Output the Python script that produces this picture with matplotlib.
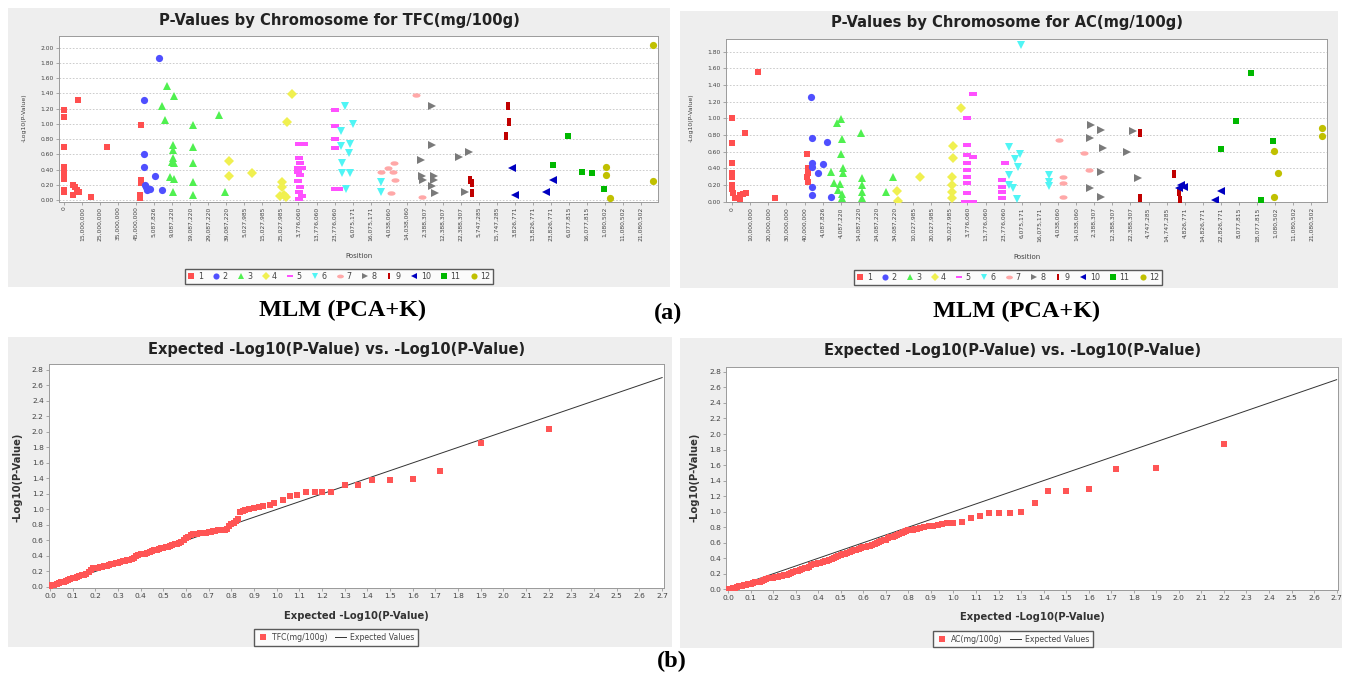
import matplotlib
matplotlib.use('Agg')
import matplotlib.pyplot as plt
from matplotlib.patches import Rectangle
from matplotlib.markers import MarkerStyle
from matplotlib.transforms import Affine2D
from matplotlib.lines import Line2D
import numpy as np

plt.rcParams['font.family'] = ['DejaVu Sans']

## data: Manhattan plots (x = tick index along the position axis)
chrom_labels = ['1', '2', '3', '4', '5', '6', '7', '8', '9', '10', '11', '12']

tfc_ticks = ['0', '15,000,000', '25,000,000', '35,000,000', '45,000,000', '5,087,826',
             '9,087,220', '19,087,220', '29,087,220', '39,087,220', '5,027,985', '15,027,985',
             '25,027,985', '3,776,060', '13,776,060', '23,776,060', '6,075,171', '16,075,171',
             '4,038,060', '14,038,060', '2,388,307', '12,388,307', '22,388,307', '5,747,285',
             '15,747,285', '3,826,771', '13,826,771', '23,826,771', '6,077,815', '16,077,815',
             '1,080,502', '11,080,502', '21,080,502']
ac_ticks = ['0', '10,000,000', '20,000,000', '30,000,000', '40,000,000', '4,087,826',
            '4,087,220', '14,087,220', '24,087,220', '34,087,220', '10,027,985', '20,027,985',
            '30,027,985', '3,776,060', '13,776,060', '23,776,060', '6,075,171', '16,075,171',
            '4,038,060', '14,038,060', '2,388,307', '12,388,307', '22,388,307', '4,747,285',
            '14,747,285', '4,826,771', '14,826,771', '22,826,771', '8,077,815', '18,077,815',
            '1,080,502', '11,080,502', '21,080,502']

tfc_chr = [1]*21 + [2]*10 + [3]*19 + [4]*10 + [5]*19 + [6]*12 + [7]*8 + [8]*12 + [9]*6 + [10]*4 + [11]*5 + [12]*5
tfc_pos = [0.0, 0.0, 0.0, 0.0, 0.0, 0.0, 0.0, 0.0, 0.76, 0.47, 0.71, 0.47, 0.83, 0.6, 1.49, 2.37,
           4.27, 4.27, 4.27, 4.22, 4.22,
           4.43, 4.43, 4.43, 4.5, 4.62, 4.74, 4.55, 5.26, 5.05, 5.45,
           5.69, 5.45, 6.07, 5.59, 6.04, 6.04, 6.04, 6.0, 6.1, 5.9, 6.1, 6.04,
           7.16, 7.16, 7.16, 7.16, 7.16, 8.58, 8.93,
           9.12, 9.12, 10.43, 12.09, 12.09, 12.2, 12.32, 12.0, 12.35, 12.63,
           13.03, 13.3, 13.03, 13.1, 13.0, 13.2, 13.0, 13.1, 13.0, 13.1, 13.05, 13.2, 13.03,
           15.05, 15.05, 15.05, 15.05, 15.05, 15.25,
           15.59, 15.36, 16.04, 15.36, 15.88, 15.81, 15.4, 15.4, 15.88, 15.64, 17.58, 17.58,
           17.58, 17.96, 18.29, 18.25, 18.36, 18.13, 19.5, 19.83,
           20.43, 20.43, 19.81, 19.83, 20.5, 20.43, 20.57, 19.9, 20.5, 21.92, 22.44, 22.23,
           22.51, 22.63, 22.63, 24.6, 24.69, 24.53,
           24.83, 25.0, 26.73, 27.13,
           27.13, 27.96, 28.72, 29.27, 29.93,
           30.05, 30.05, 30.28, 32.65, 32.65]
tfc_val = [1.18, 1.09, 0.69, 0.44, 0.35, 0.28, 0.13, 0.10, 1.32, 0.20, 0.13, 0.07, 0.11, 0.17, 0.04, 0.70,
           0.98, 0.26, 0.23, 0.07, 0.03,
           1.32, 0.60, 0.44, 0.20, 0.13, 0.15, 0.17, 1.86, 0.31, 0.13,
           1.50, 1.23, 1.37, 1.05, 0.72, 0.66, 0.55, 0.50, 0.48, 0.30, 0.28, 0.10,
           0.98, 0.69, 0.48, 0.24, 0.07, 1.12, 0.11,
           0.51, 0.32, 0.35, 0.24, 0.17, 0.07, 0.04, 0.05, 1.03, 1.39,
           0.74, 0.74, 0.55, 0.48, 0.42, 0.42, 0.37, 0.33, 0.25, 0.17, 0.11, 0.05, 0.02,
           1.18, 0.97, 0.80, 0.68, 0.15, 0.15,
           1.23, 0.91, 1.00, 0.71, 0.74, 0.62, 0.49, 0.36, 0.36, 0.14, 0.24, 0.10,
           0.37, 0.42, 0.48, 0.37, 0.26, 0.09, 1.38, 0.04,
           1.23, 0.72, 0.53, 0.31, 0.31, 0.18, 0.09, 0.26, 0.26, 0.56, 0.63, 0.10,
           0.26, 0.23, 0.09, 1.23, 1.02, 0.84,
           0.42, 0.07, 0.10, 0.26,
           0.46, 0.84, 0.37, 0.36, 0.14,
           0.44, 0.33, 0.03, 2.04, 0.25]

ac_chr = [1]*21 + [2]*10 + [3]*19 + [4]*10 + [5]*17 + [6]*12 + [7]*6 + [8]*10 + [9]*5 + [10]*5 + [11]*5 + [12]*5
ac_pos = [0.0, 0.0, 0.0, 0.0, 0.0, 0.0, 0.0, 0.07, 0.14, 0.73, 0.43, 0.61, 0.78, 0.43, 1.44, 2.36,
          4.16, 4.2, 4.2, 4.2, 4.16,
          4.33, 4.4, 4.4, 4.4, 4.4, 4.4, 5.22, 5.0, 4.73, 5.44,
          5.82, 6.03, 6.05, 6.0, 6.1, 5.44, 6.1, 5.63, 5.98, 5.86, 6.05, 6.05,
          7.1, 7.16, 7.16, 7.16, 7.16, 8.87, 8.51,
          9.13, 9.18, 10.4, 12.2, 12.2, 12.13, 12.15, 12.15, 12.15, 12.65,
          13.0, 13.0, 13.0, 13.0, 13.0, 13.0, 13.0, 13.0, 12.84, 13.31, 13.31, 13.33,
          14.9, 14.9, 14.9, 14.9, 15.08,
          15.96, 15.32, 15.6, 15.9, 15.8, 15.32, 15.32, 15.51, 15.74, 17.5, 17.5, 17.5,
          18.04, 18.27, 18.27, 18.27, 19.46, 19.7,
          19.81, 19.76, 20.4, 20.47, 20.4, 19.76, 20.4, 21.82, 22.13, 22.41,
          22.53, 22.53, 24.42, 24.66, 24.73,
          24.82, 24.66, 24.96, 26.67, 27.02,
          27.02, 27.85, 28.68, 29.22, 29.86,
          29.93, 30.17, 29.93, 32.58, 32.58]
ac_val = [1.0, 0.71, 0.47, 0.35, 0.30, 0.20, 0.15, 0.10, 0.05, 0.83, 0.03, 0.09, 0.10, 0.08, 1.56, 0.04,
          0.57, 0.40, 0.34, 0.24, 0.30,
          1.26, 0.77, 0.47, 0.42, 0.18, 0.08, 0.72, 0.45, 0.34, 0.06,
          0.94, 0.99, 0.75, 0.57, 0.40, 0.36, 0.34, 0.23, 0.21, 0.14, 0.09, 0.04,
          0.83, 0.28, 0.20, 0.12, 0.04, 0.30, 0.12,
          0.13, 0.01, 0.30, 0.67, 0.52, 0.30, 0.20, 0.12, 0.04, 1.12,
          1.0, 0.68, 0.56, 0.46, 0.38, 0.30, 0.22, 0.11, 0.0, 0.0, 1.29, 0.54,
          0.26, 0.18, 0.12, 0.05, 0.47,
          1.88, 0.66, 0.51, 0.57, 0.42, 0.32, 0.20, 0.16, 0.03, 0.32, 0.24, 0.19,
          0.74, 0.30, 0.22, 0.06, 0.59, 0.38,
          0.92, 0.77, 0.86, 0.64, 0.36, 0.17, 0.06, 0.60, 0.85, 0.28,
          0.83, 0.05, 0.33, 0.12, 0.02,
          0.20, 0.16, 0.18, 0.02, 0.13,
          0.63, 0.97, 1.55, 0.02, 0.73,
          0.61, 0.35, 0.06, 0.88, 0.79]

## data: QQ plots
tfc_exp = [2.20, 1.90, 1.72, 1.60, 1.50, 1.42, 1.36, 1.30, 1.24, 1.20, 1.17, 1.13, 1.09, 1.06, 1.03,
           0.99, 0.97, 0.94, 0.92, 0.90, 0.88, 0.86, 0.85, 0.84,
           0.83, 0.82, 0.81, 0.80, 0.79, 0.78, 0.77, 0.76, 0.75, 0.74, 0.73, 0.72, 0.71, 0.70,
           0.69, 0.68, 0.67, 0.66, 0.65, 0.64, 0.63, 0.62, 0.61, 0.60, 0.59, 0.58, 0.57, 0.56,
           0.55, 0.54, 0.53, 0.52, 0.51, 0.50, 0.49, 0.48, 0.47, 0.46, 0.45, 0.44, 0.43, 0.42,
           0.41, 0.40, 0.39, 0.38, 0.37, 0.36, 0.35, 0.34, 0.33, 0.32, 0.31, 0.30, 0.29, 0.28,
           0.27, 0.26, 0.25, 0.24, 0.23, 0.22, 0.21, 0.20, 0.19, 0.18, 0.17, 0.16, 0.15, 0.14,
           0.13, 0.12, 0.11, 0.10, 0.09, 0.08, 0.07, 0.06, 0.05, 0.04, 0.03, 0.02, 0.01, 0.00]
tfc_obs = [2.04, 1.86, 1.50, 1.39, 1.38, 1.38, 1.32, 1.32, 1.23, 1.22, 1.22, 1.22, 1.18, 1.17, 1.12,
           1.08, 1.06, 1.04, 1.03, 1.02, 1.00, 0.99, 0.98, 0.97,
           0.88, 0.85, 0.83, 0.81, 0.78, 0.75, 0.74, 0.74, 0.73, 0.73, 0.72, 0.72, 0.71, 0.71,
           0.70, 0.70, 0.69, 0.69, 0.68, 0.68, 0.68, 0.67, 0.65, 0.63, 0.60, 0.58, 0.57, 0.56,
           0.55, 0.54, 0.53, 0.52, 0.51, 0.50, 0.50, 0.49, 0.48, 0.48, 0.47, 0.45, 0.44, 0.43,
           0.43, 0.42, 0.41, 0.40, 0.38, 0.36, 0.35, 0.35, 0.34, 0.33, 0.32, 0.31, 0.31, 0.30,
           0.29, 0.28, 0.27, 0.27, 0.26, 0.26, 0.25, 0.25, 0.24, 0.22, 0.19, 0.17, 0.16, 0.15,
           0.14, 0.13, 0.12, 0.12, 0.10, 0.09, 0.08, 0.07, 0.06, 0.05, 0.04, 0.03, 0.02, 0.01]

ac_exp = [2.20, 1.90, 1.72, 1.60, 1.50, 1.42, 1.36, 1.30, 1.25, 1.20, 1.16, 1.12, 1.08, 1.04, 1.00,
          0.97, 0.95, 0.93, 0.91, 0.89, 0.87, 0.85,
          0.84, 0.83, 0.82, 0.81, 0.80, 0.79, 0.78, 0.77, 0.76, 0.75, 0.74, 0.73, 0.72, 0.71,
          0.70, 0.69, 0.68, 0.67, 0.66, 0.65, 0.64, 0.63, 0.62, 0.61, 0.60, 0.59, 0.58, 0.57,
          0.56, 0.55, 0.54, 0.53, 0.52, 0.51, 0.50, 0.49, 0.48, 0.47, 0.46, 0.45, 0.44, 0.43,
          0.42, 0.41, 0.40, 0.39, 0.38, 0.37, 0.36, 0.35, 0.34, 0.33, 0.32, 0.31, 0.30, 0.29,
          0.28, 0.27, 0.26, 0.25, 0.24, 0.23, 0.22, 0.21, 0.20, 0.19, 0.18, 0.17, 0.16, 0.15,
          0.14, 0.13, 0.12, 0.11, 0.10, 0.09, 0.08, 0.07, 0.06, 0.05, 0.04, 0.03, 0.02, 0.01, 0.00]
ac_obs = [1.87, 1.56, 1.55, 1.29, 1.26, 1.26, 1.11, 0.99, 0.98, 0.98, 0.98, 0.94, 0.92, 0.87, 0.86,
          0.85, 0.84, 0.83, 0.82, 0.81, 0.80, 0.79,
          0.78, 0.78, 0.77, 0.76, 0.76, 0.75, 0.74, 0.73, 0.71, 0.70, 0.69, 0.68, 0.67, 0.66,
          0.64, 0.63, 0.62, 0.61, 0.60, 0.58, 0.57, 0.56, 0.56, 0.55, 0.54, 0.53, 0.52, 0.51,
          0.50, 0.49, 0.48, 0.47, 0.46, 0.45, 0.44, 0.43, 0.42, 0.40, 0.39, 0.38, 0.37, 0.36,
          0.35, 0.34, 0.34, 0.33, 0.32, 0.31, 0.29, 0.28, 0.27, 0.26, 0.25, 0.24, 0.23, 0.22,
          0.21, 0.20, 0.18, 0.18, 0.17, 0.17, 0.16, 0.16, 0.15, 0.15, 0.14, 0.13, 0.12, 0.11,
          0.10, 0.10, 0.09, 0.08, 0.07, 0.07, 0.06, 0.05, 0.04, 0.04, 0.03, 0.02, 0.02, 0.01, 0.00]

expected_line = [0.0, 2.7]
qq_xticks = ['0.0', '0.1', '0.2', '0.3', '0.4', '0.5', '0.6', '0.7', '0.8', '0.9', '1.0', '1.1', '1.2', '1.3',
             '1.4', '1.5', '1.6', '1.7', '1.8', '1.9', '2.0', '2.1', '2.2', '2.3', '2.4', '2.5', '2.6', '2.7']
qq_yticks = ['0.0', '0.2', '0.4', '0.6', '0.8', '1.0', '1.2', '1.4', '1.6', '1.8', '2.0', '2.2', '2.4', '2.6', '2.8']

## styles
W, H = 1351, 683
chrom_colors = ['#ff4f4f', '#4f4fff', '#50f050', '#f0f050', '#ff50ff', '#50f5f5', '#ffa8a8',
                '#7a7a7a', '#c00000', '#0000c0', '#00b800', '#c0c000']
hrect = [(-1, -0.45), (1, -0.45), (1, 0.45), (-1, 0.45), (-1, -0.45)]
vrect = [(-0.45, -1), (0.45, -1), (0.45, 1), (-0.45, 1), (-0.45, -1)]
ellipse = MarkerStyle('o', transform=Affine2D().scale(1.0, 0.55))
chrom_markers = ['s', 'o', '^', 'D', hrect, 'v', ellipse, '>', vrect, '<', 's', 'o']
chrom_sizes = [5.0, 5.2, 5.2, 4.6, 5.6, 5.2, 5.8, 5.2, 5.6, 5.2, 5.0, 5.2]
panel_color = '#eeeeee'
tick_color = '#444444'


def rect(x0, y0, x1, y1):
    return [x0 / W, 1 - y1 / H, (x1 - x0) / W, (y1 - y0) / H]


def fx(x):
    return x / W


def fy(y):
    return 1 - y / H


fig = plt.figure(figsize=(W / 100, H / 100), dpi=100)
fig.patch.set_facecolor('white')

## grey chart backgrounds
for (x0, y0, x1, y1) in [(8, 8, 670, 287), (680, 11, 1338, 288), (8, 337, 672, 647), (680, 338, 1342, 648)]:
    fig.add_artist(Rectangle((fx(x0), fy(y1)), (x1 - x0) / W, (y1 - y0) / H,
                             transform=fig.transFigure, facecolor=panel_color, edgecolor='none', zorder=0))


def style_axes(ax):
    ax.set_facecolor('white')
    for sp in ax.spines.values():
        sp.set_color('#9a9a9a')
        sp.set_linewidth(0.7)
    ax.tick_params(direction='out', length=2, width=0.5, color='#888888', labelcolor=tick_color, pad=1.5)


def manhattan(box, pos, val, chrs, ticks, xlim, ylim, ymax_tick, title, tcx, tcy, ylx, ply, legcx, legcy):
    ax = fig.add_axes(rect(*box))
    style_axes(ax)
    pos = np.array(pos)
    val = np.array(val)
    chrs = np.array(chrs)
    handles = []
    for i, lab in enumerate(chrom_labels):
        m = chrs == i + 1
        h, = ax.plot(pos[m], val[m], linestyle='none', marker=chrom_markers[i], color=chrom_colors[i],
                     markersize=chrom_sizes[i], markeredgewidth=0, label=lab, zorder=3)
        handles.append(h)
    ax.set_xlim(*xlim)
    ax.set_ylim(*ylim)
    ax.set_xticks(range(len(ticks)))
    ax.set_xticklabels(ticks, rotation=90, fontsize=4.3)
    yt = np.arange(0, ymax_tick + 0.001, 0.2)
    ax.set_yticks(yt)
    ax.set_yticklabels(['%.2f' % v for v in yt], fontsize=4.3)
    ax.yaxis.grid(True, linestyle=(0, (2, 2)), color='#c4c4c4', linewidth=0.6)
    ax.set_axisbelow(True)
    fig.text(fx(tcx), fy(tcy), title, ha='center', va='center', fontsize=10.6, fontweight='bold', color='#222222')
    fig.text(fx(ylx), fy(118), '-Log10(P-Value)', rotation=90, ha='center', va='center', fontsize=4.5, color=tick_color)
    fig.text(fx(tcx + 20), fy(ply), 'Position', ha='center', va='center', fontsize=5, color=tick_color)
    leg = fig.legend(handles=handles, loc='center', bbox_to_anchor=(fx(legcx), fy(legcy)), ncol=12,
                     fontsize=5.8, frameon=True, fancybox=False, handlelength=0.9, handletextpad=0.35,
                     columnspacing=1.2, borderpad=0.35, markerscale=0.85)
    leg.get_frame().set_edgecolor('#333333')
    leg.get_frame().set_linewidth(1.0)
    for t in leg.get_texts():
        t.set_color(tick_color)
    return ax


def qqplot(box, exp, obs, label, xlim, ylim, tcx, tcy, ylx, xly, legcx, legcy):
    ax = fig.add_axes(rect(*box))
    style_axes(ax)
    ax.plot(expected_line, expected_line, color='#333333', linewidth=0.7, zorder=2)
    ax.plot(exp, obs, linestyle='none', marker='s', color='#ff5555', markersize=3.8, markeredgewidth=0, zorder=3)
    ax.set_xlim(*xlim)
    ax.set_ylim(*ylim)
    ax.set_xticks([float(t) for t in qq_xticks])
    ax.set_xticklabels(qq_xticks, fontsize=5.4)
    ax.set_yticks([float(t) for t in qq_yticks])
    ax.set_yticklabels(qq_yticks, fontsize=5.4)
    fig.text(fx(tcx), fy(tcy), 'Expected -Log10(P-Value) vs. -Log10(P-Value)', ha='center', va='center',
             fontsize=10.5, fontweight='bold', color='#222222')
    fig.text(fx(ylx), fy(477), '-Log10(P-Value)', rotation=90, ha='center', va='center', fontsize=7.2,
             fontweight='bold', color='#333333')
    fig.text(fx(tcx + 19), fy(xly), 'Expected -Log10(P-Value)', ha='center', va='center', fontsize=7.2,
             fontweight='bold', color='#333333')
    handles = [Line2D([], [], linestyle='none', marker='s', color='#ff5555', markersize=4, markeredgewidth=0),
               Line2D([], [], color='#333333', linewidth=0.7)]
    leg = fig.legend(handles=handles, labels=[label, 'Expected Values'], loc='center',
                     bbox_to_anchor=(fx(legcx), fy(legcy)), ncol=2, fontsize=5.6, frameon=True, fancybox=False,
                     handlelength=1.4, handletextpad=0.5, columnspacing=1.0, borderpad=0.5)
    leg.get_frame().set_edgecolor('#333333')
    leg.get_frame().set_linewidth(1.0)
    for t in leg.get_texts():
        t.set_color(tick_color)
    return ax


## (a) Manhattan plots
manhattan((58.5, 36, 658, 201.7), tfc_pos, tfc_val, tfc_chr, tfc_ticks, (-0.31, 32.94), (-0.022, 2.154), 2.0,
          'P-Values by Chromosome for TFC(mg/100g)', 339, 21, 24, 256, 339, 276.5)
manhattan((725.8, 39, 1327, 202.3), ac_pos, ac_val, ac_chr, ac_ticks, (-0.35, 32.86), (-0.007, 1.952), 1.8,
          'P-Values by Chromosome for AC(mg/100g)', 1007, 23, 691, 257, 1008, 277.5)

## (b) QQ plots
qqplot((48.6, 364.3, 663.5, 588), tfc_exp, tfc_obs, 'TFC(mg/100g)', (-0.006, 2.706), (-0.013, 2.871),
       337, 349, 18, 616, 336, 637.5)
qqplot((726.2, 366.7, 1338, 590), ac_exp, ac_obs, 'AC(mg/100g)', (-0.008, 2.706), (-0.009, 2.867),
       1013, 351, 694, 617, 1013, 639)

## captions
cap = dict(ha='center', va='center', fontsize=17.5, fontweight='bold', family='Liberation Serif')
fig.text(fx(343), fy(310), 'MLM (PCA+K)', **cap)
fig.text(fx(1017), fy(311), 'MLM (PCA+K)', **cap)
fig.text(fx(668), fy(313), '(a)', **cap)
fig.text(fx(672), fy(661), '(b)', **cap)

plt.savefig('out.png', dpi=100, facecolor='white')
